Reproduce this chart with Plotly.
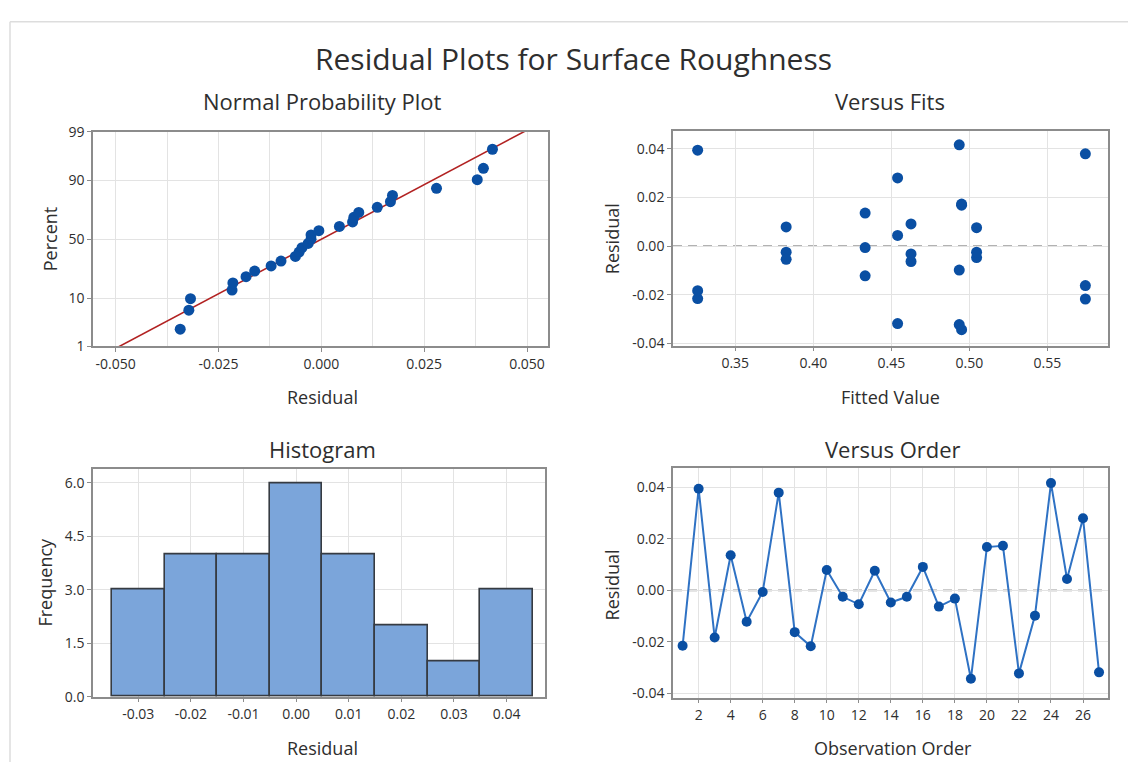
import plotly.graph_objects as go
from statistics import NormalDist

# ---------------- data ----------------
observation = list(range(1, 28))
residuals = [-0.0215, 0.0394, -0.0183, 0.0136, -0.0122, -0.0006, 0.0379, -0.0162, -0.0217,
             0.0079, -0.0025, -0.0054, 0.0076, -0.0047, -0.0025, 0.0091, -0.0063, -0.0032,
             -0.0343, 0.0168, 0.0173, -0.0322, -0.0098, 0.0416, 0.0044, 0.0280, -0.0318]
fitted = [0.3259, 0.3259, 0.3259, 0.4332, 0.4332, 0.4332, 0.5743, 0.5743, 0.5743,
          0.3826, 0.3826, 0.3826, 0.5046, 0.5046, 0.5046, 0.4626, 0.4626, 0.4626,
          0.4950, 0.4950, 0.4950, 0.4935, 0.4935, 0.4935, 0.4540, 0.4540, 0.4540]
percent_ticks = [1, 10, 50, 90, 99]
npp_xticks = [-0.050, -0.025, 0.000, 0.025, 0.050]
fit_xticks = [0.35, 0.40, 0.45, 0.50, 0.55]
resid_ticks = [-0.04, -0.02, 0.00, 0.02, 0.04]
hist_xticks = [-0.03, -0.02, -0.01, 0.00, 0.01, 0.02, 0.03, 0.04]
freq_ticks = [0.0, 1.5, 3.0, 4.5, 6.0]
order_ticks = list(range(2, 27, 2))

# ---------------- derived (probability plot) ----------------
nd = NormalDist()
n = len(residuals)
sorted_res = sorted(residuals)
z_pts = [nd.inv_cdf((i - 0.3) / (n + 0.4)) for i in range(1, n + 1)]
mean = sum(residuals) / n
sd = (sum((r - mean) ** 2 for r in residuals) / (n - 1)) ** 0.5
z_line = [-3.5, 3.5]
x_line = [mean + sd * z for z in z_line]
z_ticks = [nd.inv_cdf(p / 100) for p in percent_ticks]

W, H = 1128, 771
BLUE = "#0A4FA3"
LINEBLUE = "#2F72C4"
FRAME = "#8C8C8C"
GRID = "#E3E3E3"
TXT = "#2E2E2E"
FONT = "Open Sans"


def px(x):
    return x / W


def py(y):
    return 1 - y / H


fig = go.Figure()

# Normal probability plot
fig.add_trace(go.Scatter(x=x_line, y=z_line, mode="lines",
                         line=dict(color="#B22222", width=1.6),
                         xaxis="x", yaxis="y", showlegend=False, hoverinfo="skip"))
fig.add_trace(go.Scatter(x=sorted_res, y=z_pts, mode="markers",
                         marker=dict(color=BLUE, size=11),
                         xaxis="x", yaxis="y", showlegend=False))

# Versus fits
fig.add_trace(go.Scatter(x=fitted, y=residuals, mode="markers",
                         marker=dict(color=BLUE, size=11),
                         xaxis="x2", yaxis="y2", showlegend=False))

# Histogram
fig.add_trace(go.Histogram(x=residuals,
                           xbins=dict(start=-0.035, end=0.045, size=0.01),
                           marker=dict(color="#7BA5DA", line=dict(color="#363B42", width=1.6)),
                           xaxis="x3", yaxis="y3", showlegend=False))

# Versus order
fig.add_trace(go.Scatter(x=observation, y=residuals, mode="lines+markers",
                         line=dict(color=LINEBLUE, width=2),
                         marker=dict(color=BLUE, size=10),
                         xaxis="x4", yaxis="y4", showlegend=False))

axis_common = dict(showline=True, mirror=True, linecolor=FRAME, linewidth=1.6,
                   showgrid=True, gridcolor=GRID, gridwidth=1, zeroline=False,
                   ticks="outside", ticklen=4, tickcolor=FRAME,
                   tickfont=dict(family=FONT, size=14, color=TXT))

fig.update_layout(
    width=W, height=H,
    margin=dict(l=0, r=0, t=0, b=0),
    paper_bgcolor="white", plot_bgcolor="white",
    font=dict(family=FONT, color=TXT),
    bargap=0,
    xaxis=dict(axis_common, domain=[px(93), px(548)], anchor="y",
               range=[-0.0555, 0.0551], tickvals=npp_xticks,
               ticktext=[f"{v:.3f}" for v in npp_xticks],
               minor=dict(dtick=0.0125, tick0=0, showgrid=True, gridcolor=GRID, ticks="")),
    yaxis=dict(axis_common, domain=[py(345), py(125)], anchor="x",
               range=[z_ticks[0], z_ticks[-1]], tickvals=z_ticks,
               ticktext=[str(p) for p in percent_ticks]),
    xaxis2=dict(axis_common, domain=[px(673), px(1108)], anchor="y2",
                range=[0.3101, 0.5888], tickvals=fit_xticks,
                ticktext=[f"{v:.2f}" for v in fit_xticks]),
    yaxis2=dict(axis_common, domain=[py(344), py(124)], anchor="x2",
                range=[-0.0408, 0.0473], tickvals=resid_ticks,
                ticktext=[f"{v:.2f}" for v in resid_ticks]),
    xaxis3=dict(axis_common, domain=[px(93), px(545)], anchor="y3",
                range=[-0.0386, 0.0473], tickvals=hist_xticks,
                ticktext=[f"{v:.2f}" for v in hist_xticks]),
    yaxis3=dict(axis_common, domain=[py(704), py(471)], anchor="x3",
                range=[0, 6.38], tickvals=freq_ticks,
                ticktext=[f"{v:.1f}" for v in freq_ticks]),
    xaxis4=dict(axis_common, domain=[px(673), px(1108)], anchor="y4",
                range=[0.40, 27.56], tickvals=order_ticks,
                ticktext=[str(v) for v in order_ticks]),
    yaxis4=dict(axis_common, domain=[py(705), py(470)], anchor="x4",
                range=[-0.0416, 0.0473], tickvals=resid_ticks,
                ticktext=[f"{v:.2f}" for v in resid_ticks]),
)

# zero reference lines
for xr, yr in [("x2", "y2"), ("x4", "y4")]:
    fig.add_shape(type="line", xref=f"{xr} domain", yref=yr, x0=0, x1=1, y0=0, y1=0,
                  line=dict(color="#999999", width=1.8, dash="9px,6px"), layer="below")

# outer screenshot frame
fig.add_shape(type="line", xref="paper", yref="paper", x0=px(10), x1=1, y0=py(12), y1=py(12),
              line=dict(color="#DDDDDD", width=1.5))
fig.add_shape(type="line", xref="paper", yref="paper", x0=px(10), x1=px(10), y0=0, y1=py(12),
              line=dict(color="#DDDDDD", width=1.5))

annotations = [
    ("Residual Plots for Surface Roughness", 573, 50, 30, 0),
    ("Normal Probability Plot", 322, 93, 22, 0),
    ("Versus Fits", 890, 93, 22, 0),
    ("Histogram", 322, 450, 22, 0),
    ("Versus Order", 893, 450, 22, 0),
    ("Residual", 322, 397, 18, 0),
    ("Fitted Value", 890, 397, 18, 0),
    ("Residual", 322, 757, 18, 0),
    ("Observation Order", 893, 757, 18, 0),
    ("Percent", 50, 235, 18, -90),
    ("Residual", 612, 235, 18, -90),
    ("Frequency", 45, 587, 18, -90),
    ("Residual", 612, 590, 18, -90),
]
for text, x, y, size, ang in annotations:
    fig.add_annotation(text=text, x=px(x), y=py(y), xref="paper", yref="paper",
                       xanchor="center", yanchor="middle", showarrow=False,
                       textangle=ang, font=dict(family=FONT, size=size, color=TXT))

fig.write_html("out.html")
